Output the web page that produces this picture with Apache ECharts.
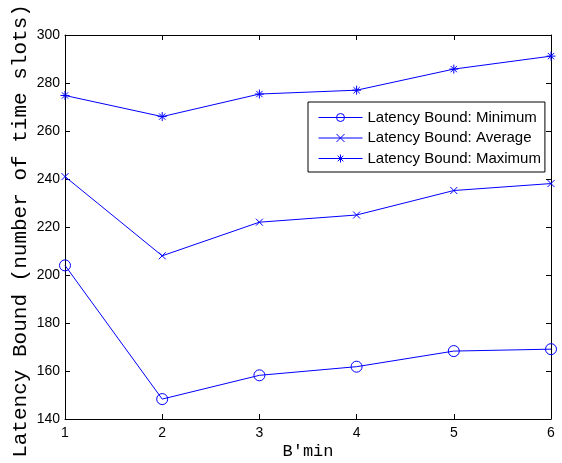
<!DOCTYPE html>
<html>
<head>
<meta charset="utf-8">
<script src="https://cdn.jsdelivr.net/npm/echarts@6/dist/echarts.min.js"></script>
<style>
  html, body { margin: 0; padding: 0; background: #fff; }
  #chart { width: 562px; height: 463px; }
</style>
</head>
<body>
<div id="chart"></div>
<script>
// B'min values on the x axis
const bMin = [1, 2, 3, 4, 5, 6];

// Latency bound per B'min (number of time slots)
const latencyMinimum = [204, 148.3, 158.2, 161.8, 168.3, 169.1];
const latencyAverage = [241, 208, 222, 225, 235.2, 238.1];
const latencyMaximum = [274.8, 266, 275.4, 277, 285.8, 291.2];

const seriesNames = [
  'Latency Bound: Minimum',
  'Latency Bound: Average',
  'Latency Bound: Maximum'
];

const yTicks = [140, 160, 180, 200, 220, 240, 260, 280, 300];

const BLUE = '#0000ff';
const crossPath = 'path://M0,0L10,10M10,0L0,10';
const starPath = 'path://M5,0L5,10M0,5L10,5M1.5,1.5L8.5,8.5M8.5,1.5L1.5,8.5';

function toPairs(values) {
  return bMin.map((x, i) => [x, values[i]]);
}

function lineSeries(name, values, symbol, size) {
  return {
    name: name,
    type: 'line',
    data: toPairs(values),
    symbol: symbol,
    symbolSize: size,
    showAllSymbol: true,
    lineStyle: { color: BLUE, width: 1 },
    itemStyle: { color: 'rgba(0,0,0,0)', borderColor: BLUE, borderWidth: 1 },
    emphasis: { disabled: true },
    animation: false
  };
}

const baseAxisStyle = {
  axisLine: { show: true, lineStyle: { color: '#000', width: 1 } },
  axisTick: { show: true, inside: true, length: 5, lineStyle: { color: '#000', width: 1 } },
  splitLine: { show: false }
};

const chart = echarts.init(document.getElementById('chart'), null, { renderer: 'canvas' });

chart.setOption({
  backgroundColor: '#fff',
  animation: false,
  grid: { left: 65, right: 11, top: 35, bottom: 44, containLabel: false, outerBoundsMode: 'none' },
  xAxis: [
    Object.assign({
      type: 'value',
      min: 1, max: 6, interval: 1,
      position: 'bottom',
      name: 'B\u2032min',
      nameLocation: 'middle',
      nameGap: 24,
      nameMoveOverlap: false,
      nameTextStyle: { fontFamily: 'Liberation Mono', fontSize: 17, color: '#000' },
      axisLabel: { fontFamily: 'Liberation Sans', fontSize: 14, color: '#000', margin: 7 }
    }, baseAxisStyle),
    Object.assign({
      type: 'value',
      min: 1, max: 6, interval: 1,
      position: 'top',
      axisLabel: { show: false }
    }, baseAxisStyle)
  ],
  yAxis: [
    Object.assign({
      type: 'value',
      min: yTicks[0], max: yTicks[yTicks.length - 1], interval: 20,
      position: 'left',
      name: 'Latency Bound (number of time slots)',
      nameLocation: 'middle',
      nameGap: 34,
      nameMoveOverlap: false,
      nameTextStyle: { fontFamily: 'Liberation Mono', fontSize: 21, color: '#000', padding: [0, 8, 0, 0] },
      axisLabel: { fontFamily: 'Liberation Sans', fontSize: 14, color: '#000', margin: 5 }
    }, baseAxisStyle),
    Object.assign({
      type: 'value',
      min: yTicks[0], max: yTicks[yTicks.length - 1], interval: 20,
      position: 'right',
      axisLabel: { show: false }
    }, baseAxisStyle)
  ],
  legend: {
    orient: 'vertical',
    left: 308,
    top: 102,
    data: seriesNames,
    itemWidth: 44,
    itemHeight: 10,
    itemGap: 5.5,
    padding: [8, 4, 6, 10],
    borderColor: '#000',
    borderWidth: 1,
    backgroundColor: '#fff',
    lineStyle: { width: 1, color: BLUE },
    itemStyle: { borderWidth: 1, borderColor: BLUE },
    textStyle: { fontFamily: 'Liberation Sans', fontSize: 15, lineHeight: 14, color: '#000' },
    selectedMode: false
  },
  series: [
    lineSeries(seriesNames[0], latencyMinimum, 'circle', 11),
    lineSeries(seriesNames[1], latencyAverage, crossPath, 7),
    lineSeries(seriesNames[2], latencyMaximum, starPath, 9)
  ]
});
</script>
</body>
</html>
